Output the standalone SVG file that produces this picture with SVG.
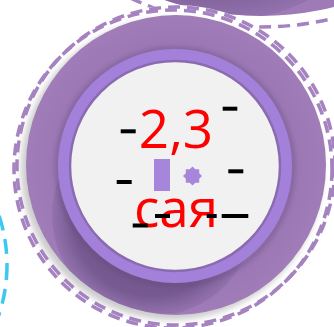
<svg xmlns="http://www.w3.org/2000/svg" width="334" height="327" viewBox="0 0 334 327">
  <style>
    .ring-dash { fill: none; stroke: #a583c0; stroke-width: 3.5; stroke-dasharray: 12 7; }
    .blue-dash { fill: none; stroke: #3cc8f0; stroke-width: 3.5; stroke-dasharray: 15 9; }
    .disk { fill: #9e7ab6; }
    .label { font-family: "Open Sans", "Liberation Sans", sans-serif; fill: #ff0000; text-anchor: middle; font-size: 53px; }
    .bar { stroke: #000; stroke-width: 4; }
    .accent { fill: #a586da; }
  </style>
  <defs>
    <filter id="blur" x="-20%" y="-20%" width="140%" height="140%"><feGaussianBlur stdDeviation="3"/></filter>
    <filter id="blur2" x="-20%" y="-20%" width="140%" height="140%"><feGaussianBlur stdDeviation="2"/></filter>
    <radialGradient id="shade" cx="0.5" cy="0.5" r="0.5">
      <stop offset="0" stop-color="#6b5085" stop-opacity="1"/>
      <stop offset="0.8" stop-color="#71568c" stop-opacity="0.9"/>
      <stop offset="1" stop-color="#7a5e97" stop-opacity="0.3"/>
    </radialGradient>
    <radialGradient id="diskGrad" cx="0.5" cy="0.5" r="0.5">
      <stop offset="0.75" stop-color="#9a76b2"/>
      <stop offset="1" stop-color="#a07cb8"/>
    </radialGradient>
    <clipPath id="clipMain"><circle cx="176" cy="165" r="150"/></clipPath>
    <clipPath id="clipTop"><circle cx="261" cy="-282" r="298"/></clipPath>
  </defs>
  <rect width="334" height="327" fill="#ffffff"/>

  <g id="node-left">
    <circle class="blue-dash" cx="-150" cy="265" r="157"/>
  </g>

  <g id="node-top">
    <circle class="ring-dash" cx="261" cy="-282" r="309"/>
    <circle class="disk" cx="261" cy="-282" r="298"/>
    <circle cx="216" cy="-183" r="205" fill="url(#shade)" clip-path="url(#clipTop)"/>
  </g>

  <g id="connectors"></g>

  <g id="node-main">
    <circle cx="176" cy="166" r="161" fill="#ffffff"/>
    <circle cx="172" cy="169" r="151" fill="#000000" opacity="0.2" filter="url(#blur)"/>
    <circle class="ring-dash" cx="176" cy="166" r="159"/>
    <circle class="ring-dash" cx="173" cy="169" r="159"/>
    <circle cx="176" cy="165" r="150" fill="url(#diskGrad)"/>
    <circle cx="153" cy="215" r="101" fill="url(#shade)" clip-path="url(#clipMain)"/>
    <circle cx="175" cy="167" r="118" fill="none" stroke="#5e4476" stroke-width="5" opacity="0.35" filter="url(#blur2)"/>
    <circle cx="175" cy="166" r="111" fill="none" stroke="#a381da" stroke-width="12"/>
    <circle cx="175" cy="166" r="105" fill="#f1f1f1" stroke="#8a6bb0" stroke-width="2.5"/>
    <rect class="accent" x="154" y="159" width="16" height="32"/>
    <polygon class="accent" points="192.5,166.5 195.3,169.3 199.2,169.3 199.2,173.2 202,176 199.2,178.8 199.2,182.7 195.3,182.7 192.5,185.5 189.7,182.7 185.8,182.7 185.8,178.8 183,176 185.8,173.2 185.8,169.3 189.7,169.3"/>
    <text class="label" x="176" y="148">2,3</text>
    <text class="label" x="176" y="227">сая</text>
    <line class="bar" x1="120.7" y1="131.3" x2="135.7" y2="131.3"/>
    <line class="bar" x1="222.7" y1="108.7" x2="237.3" y2="108.7"/>
    <line class="bar" x1="116.7" y1="182" x2="131.7" y2="182"/>
    <line class="bar" x1="228.3" y1="171.3" x2="243.3" y2="171.3"/>
    <line class="bar" x1="132.7" y1="225.5" x2="147.7" y2="225.5"/>
    <line class="bar" x1="155" y1="216" x2="170" y2="216"/>
    <line class="bar" x1="206.7" y1="216" x2="216.7" y2="216"/>
    <line class="bar" x1="221.7" y1="216" x2="248.3" y2="216"/>
  </g>
</svg>
